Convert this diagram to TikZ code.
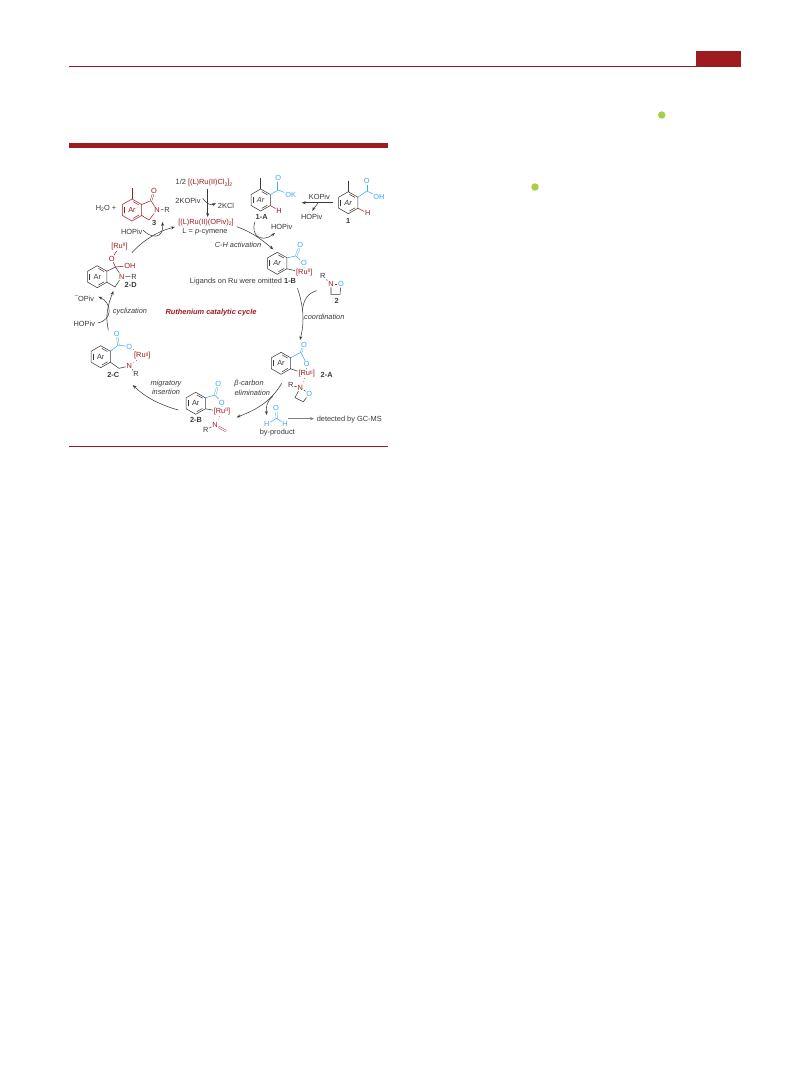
\documentclass[tikz,border=0pt]{standalone}
\usepackage{fontspec}
\setmainfont{Liberation Sans}
\usepackage{tikz}
\usetikzlibrary{arrows.meta}

\definecolor{rured}{HTML}{9E1B20}
\definecolor{coblue}{HTML}{3FA9F5}
\definecolor{inkgrey}{HTML}{3A3A3A}
\definecolor{dotgreen}{HTML}{A8CF45}

\newcommand{\hight}[1]{\raisebox{0.45ex}{\fontsize{3.8}{4}\selectfont #1}}
\newcommand{\lowt}[1]{\raisebox{-0.3ex}{\fontsize{3.8}{4}\selectfont #1}}
\newcommand{\ruii}{[Ru\hight{II}]}

% benzene ring: name, x, y, colour, label
\newcommand{\arring}[5]{
\coordinate (#1-1) at (#2,#3-11);
\coordinate (#1-2) at (#2+9.6,#3-5.5);
\coordinate (#1-3) at (#2+9.6,#3+5.5);
\coordinate (#1-4) at (#2,#3+11);
\coordinate (#1-5) at (#2-9.6,#3+5.5);
\coordinate (#1-6) at (#2-9.6,#3-5.5);
\draw[bond,draw=#4] (#1-1) -- (#1-2) -- (#1-3) -- (#1-4) -- (#1-5) -- (#1-6) -- cycle;
\draw[bond,draw=#4,shorten >=1pt,shorten <=1pt] (#2,#3-9) -- (#2+7.9,#3-4.5);
\draw[bond,draw=#4,shorten >=1pt,shorten <=1pt] (#2+7.9,#3+4.5) -- (#2,#3+9);
\draw[bond,draw=#4,shorten >=1pt,shorten <=1pt] (#2-7.9,#3+4.5) -- (#2-7.9,#3-4.5);
\node[text=#4] (#1-ar) at (#2,#3) {#5};
}

\begin{document}
\begin{tikzpicture}[x=0.75pt,y=-0.75pt,
  every node/.style={font=\fontsize{5.55}{6.5}\selectfont,inner sep=0.5pt,text=inkgrey},
  bond/.style={line width=0.4pt,inkgrey},
  dbl/.style={double,double distance=0.9pt,line width=0.3pt},
  red/.style={draw=rured},
  blu/.style={draw=coblue},
  lab/.style={font=\fontsize{5.55}{6.5}\selectfont\bfseries},
  note/.style={font=\fontsize{5.55}{6.5}\selectfont\itshape},
  arc/.style={line width=0.4pt,inkgrey,-{Stealth[length=3pt,width=2.2pt]}},
  rule/.style={fill=rured,draw=none},
  greendot/.style={circle,fill=dotgreen,minimum size=5.6pt,inner sep=0pt}]
\useasboundingbox (0,0) rectangle (809,1067);
\fill[white] (0,0) rectangle (809,1067);

% page furniture
\fill[rule] (69,65.5) rectangle (741,66.8);
\fill[rule] (696,51) rectangle (741,66);
\fill[rule] (69,143) rectangle (388,147.5);
\fill[rule] (69,445.6) rectangle (388,446.6);
\node[greendot] (dota) at (661.7,115) {};
\node[greendot] (dotb) at (535,187) {};

% compound 3
\arring{r3}{132}{210}{rured}{Ar}
\coordinate (me3) at (132,188);
\coordinate (c3) at (151,200.7);
\coordinate (ch3) at (149,220);
\node[text=rured] (o3) at (154,191) {O};
\node[text=rured] (n3) at (157,210) {N};
\node (rr3) at (167,209.5) {R};
\node[lab] (l3) at (154.3,222.5) {3};
\draw[bond,red] (r3-1) -- (me3);
\draw[bond,red] (r3-2) -- (c3) -- (n3) -- (ch3) -- (r3-3);
\draw[bond,red,dbl] (c3) -- (o3);
\draw[bond] (n3) -- (rr3);
\node (water) at (106,208.7) {H\lowt{2}O +};

% Ru precursor
\node (rucl) at (204,183) {1/2 \textcolor{rured}{[(L)Ru(II)Cl\lowt{2}]\lowt{2}}};
\node (kopivb) at (188,200.7) {2KOPiv};
\node (kcl) at (226,206) {2KCl};
\node[text=rured] (ruopiv) at (206,222.3) {[(L)Ru(II)(OPiv)\lowt{2}]};
\node (lcym) at (205,231.7) {L = \textit{p}-cymene};
\node[note] (chact) at (238,245) {C-H activation};
\node (ligands) at (243,282) {Ligands on Ru were omitted \textbf{1-B}};
\node (hopiva) at (131.7,231.7) {HOPiv};
\coordinate (rutop) at (207.7,189);
\coordinate (rubot) at (207.7,217);
\draw[arc] (rutop) -- (rubot);
\coordinate (kgo) at (202.7,198.3);
\coordinate (kend) at (216,203.5);
\draw[arc] (kgo) .. controls (207,204) and (210,205.5) .. (kend);

% compound 2-D
\arring{r2d}{97.3}{276.7}{inkgrey}{Ar}
\coordinate (c2d) at (115.5,267);
\coordinate (ch2d) at (115,287);
\node[text=rured] (o2d) at (111.7,258.7) {O};
\node[text=rured] (oh2d) at (130,265.5) {OH};
\node[text=rured] (ru2d) at (119.5,246.7) {\ruii};
\node[text=rured] (n2d) at (121.7,276.7) {N};
\node (rr2d) at (134,276.5) {R};
\node[lab] (l2d) at (130.7,285) {2-D};
\draw[bond] (r2d-2) -- (c2d) -- (n2d) -- (ch2d) -- (r2d-3);
\draw[bond,red] (c2d) -- (o2d);
\draw[bond,red] (o2d) -- (ru2d);
\draw[bond,red] (c2d) -- (oh2d);
\draw[bond] (n2d) -- (rr2d);
\node (opiv) at (84.5,298.3) {\raisebox{1ex}{\fontsize{4.5}{5}\selectfont –}OPiv};
\node (hopivb) at (84.3,324.3) {HOPiv};
\node[note] (cyc) at (130,312) {cyclization};
\node[font=\fontsize{5.55}{6.5}\selectfont\bfseries\itshape,text=rured] (cycle) at (211,313) {Ruthenium catalytic cycle};

% compound 1-A
\arring{r1a}{260.7}{200}{inkgrey}{\textit{Ar}}
\coordinate (me1a) at (260.7,178.3);
\coordinate (c1a) at (278.3,190);
\node[text=coblue] (o1a) at (278.3,178.3) {O};
\node[text=coblue] (ok1a) at (290.7,195) {OK};
\node[text=rured] (h1a) at (279,210.7) {H};
\node[lab] (l1a) at (261.7,216.7) {1-A};
\draw[bond] (r1a-1) -- (me1a);
\draw[bond,blu] (r1a-2) -- (c1a) -- (ok1a);
\draw[bond,blu,dbl] (c1a) -- (o1a);
\draw[bond,red] (r1a-3) -- (h1a);

% compound 1
\arring{r1}{348.3}{202.7}{inkgrey}{\textit{Ar}}
\coordinate (me1) at (348.3,180.7);
\coordinate (c1) at (366.7,191);
\node[text=coblue] (o1) at (366.7,181) {O};
\node[text=coblue] (oh1) at (379,196.7) {OH};
\node[text=rured] (h1) at (367.7,213.3) {H};
\node[lab] (l1) at (348.3,221) {1};
\draw[bond] (r1-1) -- (me1);
\draw[bond,blu] (r1-2) -- (c1) -- (oh1);
\draw[bond,blu,dbl] (c1) -- (o1);
\draw[bond,red] (r1-3) -- (h1);
\node (kopiva) at (319.3,197.3) {KOPiv};
\node (hopivc) at (311.7,216.7) {HOPiv};
\node (hopivd) at (281.7,227.3) {HOPiv};

% compound 1-B
\arring{r1b}{277.3}{263.3}{inkgrey}{\textit{Ar}}
\coordinate (c1b) at (296,256);
\node[text=coblue] (o1b) at (300.3,245) {O};
\node[text=coblue] (oo1b) at (304,263.3) {O};
\node[text=rured] (ru1b) at (304.3,272.7) {\ruii};
\draw[bond,blu] (r1b-2) -- (c1b) -- (oo1b);
\draw[bond,blu,dbl] (c1b) -- (o1b);
\draw[bond,blu] (oo1b) -- (ru1b);
\draw[bond] (r1b-3) -- (ru1b);

% compound 2
\node (rr2) at (322.7,276) {R};
\node[text=rured] (n2) at (331,284) {N};
\node[text=coblue] (o2) at (341,284) {O};
\coordinate (ca2) at (340,294.3);
\coordinate (cb2) at (331,294.3);
\node[lab] (l2) at (336.7,300.7) {2};
\draw[bond] (rr2) -- (n2);
\draw[bond,red] (n2) -- (o2);
\draw[bond] (o2) -- (ca2) -- (cb2) -- (n2);
\node[note] (coord) at (324.3,316.7) {coordination};

% compound 2-A
\arring{r2a}{281}{363.3}{inkgrey}{Ar}
\coordinate (c2a) at (301,352.3);
\node[text=coblue] (o2a) at (304,345) {O};
\node[text=coblue] (oo2a) at (306.7,364.3) {O};
\node[text=rured] (ru2a) at (306.7,374) {\ruii};
\node[lab] (l2a) at (326.7,374.7) {2-A};
\node[text=rured] (n2a) at (300.3,387.7) {N};
\node (rr2a) at (290.7,385.3) {R};
\node[text=coblue] (ox2a) at (309.3,394) {O};
\coordinate (ca2a) at (303.3,401.7);
\coordinate (cb2a) at (295,397.7);
\draw[bond,blu] (r2a-2) -- (c2a) -- (oo2a);
\draw[bond,blu,dbl] (c2a) -- (o2a);
\draw[bond,blu,dotted] (oo2a) -- (ru2a);
\draw[bond] (r2a-3) -- (ru2a);
\draw[bond,red,dotted] (ru2a) -- (n2a);
\draw[bond] (rr2a) -- (n2a);
\draw[bond] (n2a) -- (ox2a) -- (ca2a) -- (cb2a) -- (n2a);
\node[note] (betaa) at (249,384) {β-carbon};
\node[note] (betab) at (252.3,393) {elimination};

% by-product
\coordinate (c5) at (276.7,418.3);
\node[text=coblue] (o5) at (276,408.3) {O};
\node[text=coblue] (ha5) at (266.7,424.3) {H};
\node[text=coblue] (hb5) at (285,424.3) {H};
\node (byp) at (277.3,432.3) {by-product};
\node (gcms) at (349.3,419.3) {detected by GC-MS};
\draw[bond,blu,dbl] (c5) -- (o5);
\draw[bond,blu] (ha5) -- (c5) -- (hb5);
\coordinate (gca) at (288.3,418.7);
\coordinate (gcb) at (314,418.7);
\draw[line width=0.8pt,gray,-{Stealth[length=3pt,width=2.6pt]}] (gca) -- (gcb);

% compound 2-B
\arring{r2b}{195.7}{403.3}{inkgrey}{Ar}
\coordinate (c2b) at (215,395);
\node[text=coblue] (o2b) at (218.3,384) {O};
\node[text=coblue] (oo2b) at (221.7,402.7) {O};
\node[text=rured] (ru2b) at (222,411.7) {\ruii};
\node[lab] (l2b) at (196,420) {2-B};
\node[text=rured] (n2b) at (215,425) {N};
\node (rr2b) at (205.7,430) {R};
\coordinate (ch2b) at (226,431);
\draw[bond,blu] (r2b-2) -- (c2b) -- (oo2b);
\draw[bond,blu,dbl] (c2b) -- (o2b);
\draw[bond,blu,dotted] (oo2b) -- (ru2b);
\draw[bond] (r2b-3) -- (ru2b);
\draw[bond,red,dotted] (ru2b) -- (n2b);
\draw[bond] (rr2b) -- (n2b);
\draw[bond,red,dbl] (n2b) -- (ch2b);
\node[note] (migra) at (166,383.3) {migratory};
\node[note] (migrb) at (166,391.7) {insertion};

% compound 2-C
\arring{r2c}{100.7}{356.7}{inkgrey}{Ar}
\coordinate (c2c) at (118.5,345);
\coordinate (ch2c) at (119,368.3);
\node[text=coblue] (o2c) at (116.7,334) {O};
\node[text=coblue] (oo2c) at (129.3,346.7) {O};
\node[text=rured] (ru2c) at (142.3,356) {\ruii};
\node[text=rured] (n2c) at (129.3,366) {N};
\node (rr2c) at (136,374) {R};
\node[lab] (l2c) at (113.3,375) {2-C};
\draw[bond,blu] (r2c-2) -- (c2c) -- (oo2c);
\draw[bond,blu,dbl] (c2c) -- (o2c);
\draw[bond,dotted] (oo2c) -- (ru2c);
\draw[bond,dotted] (ru2c) -- (n2c);
\draw[bond] (r2c-3) -- (ch2c) -- (n2c);
\draw[bond] (n2c) -- (rr2c);

% catalytic cycle arrows
\coordinate (ada) at (131.7,253);
\coordinate (adb) at (175,227);
\draw[arc] (ada) .. controls (142,241) and (158,231) .. (adb);
\coordinate (aha) at (143,230);
\coordinate (ahb) at (162.3,222);
\draw[arc] (aha) .. controls (150,238) and (164,240) .. (ahb);
\coordinate (kga) at (333.3,202.7);
\coordinate (kgb) at (301.7,202.7);
\draw[arc] (kga) -- (kgb);
\coordinate (kha) at (318,203);
\coordinate (khb) at (312.3,211);
\draw[arc] (kha) .. controls (316,206) and (314,208) .. (khb);
\coordinate (aaa) at (255,221.7);
\coordinate (aab) at (275,233);
\draw[arc] (aaa) .. controls (250,236) and (262,243) .. (aab);
\coordinate (abb) at (236.7,226.7);
\coordinate (abc) at (273.3,249.3);
\draw[arc] (abb) .. controls (252,232) and (262,240) .. (abc);
\coordinate (aca) at (297.5,288.3);
\coordinate (acb) at (300,340);
\draw[arc] (aca) .. controls (303,305) and (305,320) .. (acb);
\coordinate (ada2) at (316.7,290.7);
\coordinate (adb2) at (302.5,311);
\draw[bond] (ada2) .. controls (308,293) and (303,300) .. (adb2);
\coordinate (aea) at (281.7,383.3);
\coordinate (aeb) at (236.7,417.3);
\draw[arc] (aea) .. controls (270,403) and (255,410) .. (aeb);
\coordinate (afa) at (273,396);
\coordinate (afb) at (266.7,415);
\draw[arc] (afa) .. controls (266,402) and (266,408) .. (afb);
\coordinate (aga) at (178.3,410);
\coordinate (agb) at (132.7,385);
\draw[arc] (aga) .. controls (160,405) and (145,397) .. (agb);
\coordinate (aka) at (108.3,330);
\coordinate (akb) at (113.3,291);
\draw[arc] (aka) .. controls (105,315) and (108,305) .. (akb);
\coordinate (ala) at (97.7,323);
\coordinate (alb) at (98.3,296.7);
\draw[arc] (ala) .. controls (113,320) and (112,303) .. (alb);
\end{tikzpicture}
\end{document}
